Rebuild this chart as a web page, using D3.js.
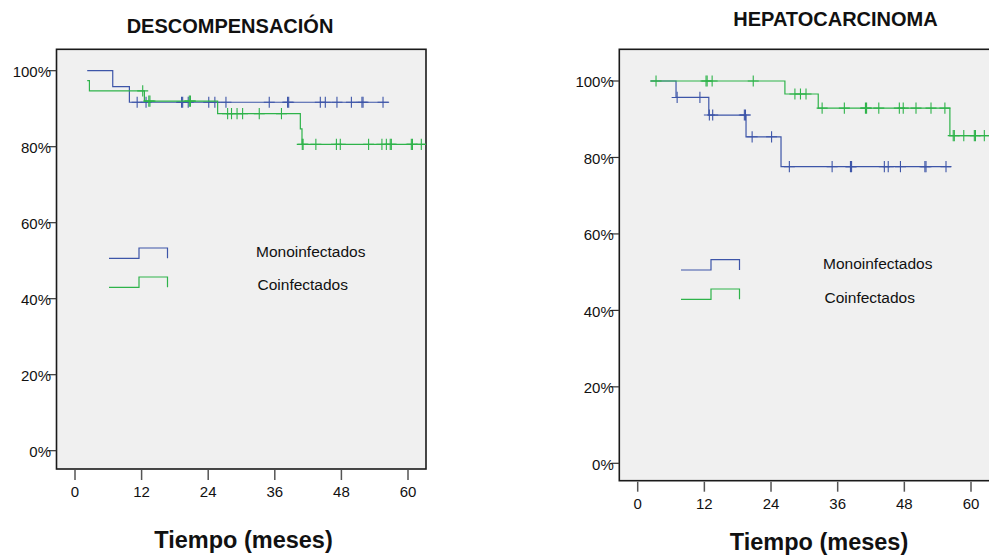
<!DOCTYPE html>
<meta charset="utf-8">
<script src="https://cdn.jsdelivr.net/npm/d3@7"></script>
<style>
body { margin: 0; background: #fff; }
text { font-family: Arial, "Liberation Sans", sans-serif; fill: #111; }
.tick-label { font-size: 15px; }
.title { font-size: 20px; font-weight: bold; }
.xlabel { font-size: 23.5px; font-weight: bold; }
.legend-label { font-size: 15.5px; }
.km { fill: none; stroke-width: 1.2px; }
.censor { stroke-width: 1.1px; }
</style>
<body>
<script>

var xTicks = [0, 12, 24, 36, 48, 60];
var yTicks = [0, 20, 40, 60, 80, 100];
var groups = ["Monoinfectados", "Coinfectados"];
var colors = ["#3d55a8", "#2eb34a"];

// DESCOMPENSACION: [tiempo, supervivencia %]
var descMonoSteps = [[2.2, 100], [6.8, 95.8], [9.8, 91.7]];
var descMonoEnd = 56.6;
var descMonoCensored = [11.2, 12.8, 19.2, 19.4, 20.4, 24.1, 25.2, 27.2, 35, 38.3, 38.5,
  44.2, 45.1, 47.2, 49.8, 51.7, 51.9, 55.5];

var descCoinfSteps = [[2.2, 97.4], [2.6, 94.7], [12.5, 92.0], [25.7, 88.7], [40.6, 84.7], [40.9, 80.6]];
var descCoinfEnd = 63.5;
var descCoinfCensored = [12.2, 13.3, 13.5, 20.6, 20.8, 27.5, 28.2, 29.2, 30.2, 33.2, 37.2,
  40.95, 41.1, 43.4, 47.1, 47.8, 52.9, 55.3, 56.1, 56.8, 57.0, 60.6, 60.8, 62.4];

// HEPATOCARCINOMA
var hepMonoSteps = [[2.3, 100], [6.9, 95.7], [12.8, 91.1], [19.5, 85.4], [25.8, 77.6]];
var hepMonoEnd = 56.4;
var hepMonoCensored = [7.1, 11.2, 12.9, 13.5, 19.2, 19.4, 20.6, 24.1, 27.3, 35, 38.3, 38.5,
  44.4, 45.1, 47.3, 51.7, 51.9, 55.5];

var hepCoinfSteps = [[2.3, 100], [26.5, 96.6], [32.5, 92.9], [56.2, 85.7]];
var hepCoinfEnd = 63.5;
var hepCoinfCensored = [3.3, 12.3, 12.5, 13.4, 20.8, 28.3, 29.3, 30.3, 33.2, 37.2, 41.0, 41.2,
  43.4, 47.1, 47.8, 50.1, 52.8, 55.3, 56.8, 57.0, 58.7, 60.6, 60.8, 62.4];

var width = 989, height = 555;

var svg = d3.select("body").append("svg")
    .attr("width", width)
    .attr("height", height);

var panels = [
  { id: "desc", title: "DESCOMPENSACIÓN",
    box: {x0: 56.5, x1: 426, y0: 49.3, y1: 469},
    xr: [75, 408], yr: [450.7, 70.7],
    titleX: 230, titleY: 33, labelX: 243.5, labelY: 548,
    legend: {x: 109, y: 258.3, tx: 256, gap: 29, ty: -1.6},
    series: [
      {steps: descMonoSteps, end: descMonoEnd, cens: descMonoCensored},
      {steps: descCoinfSteps, end: descCoinfEnd, cens: descCoinfCensored}
    ] },
  { id: "hep", title: "HEPATOCARCINOMA",
    box: {x0: 619.3, x1: 1000, y0: 49.3, y1: 480.7},
    xr: [637.7, 971], yr: [463.3, 81],
    titleX: 835.5, titleY: 26, labelX: 819, labelY: 550,
    legend: {x: 681, y: 270, tx: 823, gap: 29.3, ty: -0.7},
    series: [
      {steps: hepMonoSteps, end: hepMonoEnd, cens: hepMonoCensored},
      {steps: hepCoinfSteps, end: hepCoinfEnd, cens: hepCoinfCensored}
    ] }
];

panels.forEach(function(p) {
  var x = d3.scaleLinear().domain([0, 60]).range(p.xr);
  var y = d3.scaleLinear().domain([0, 100]).range(p.yr);
  var b = p.box;
  var g = svg.append("g");

  g.append("clipPath").attr("id", "clip-" + p.id)
    .append("rect")
      .attr("x", b.x0).attr("y", b.y0)
      .attr("width", b.x1 - b.x0).attr("height", b.y1 - b.y0);

  g.append("rect")
      .attr("x", b.x0).attr("y", b.y0)
      .attr("width", b.x1 - b.x0).attr("height", b.y1 - b.y0)
      .attr("fill", "#f0f0f0")
      .attr("stroke", "#1a1a1a")
      .attr("stroke-width", 1.6);

  // y ticks
  yTicks.forEach(function(v) {
    g.append("line")
        .attr("x1", b.x0 - 8).attr("x2", b.x0)
        .attr("y1", y(v)).attr("y2", y(v))
        .attr("stroke", "#333").attr("stroke-width", 1.2);
    g.append("text")
        .attr("class", "tick-label")
        .attr("x", b.x0 - 5.5).attr("y", y(v) + 6.3)
        .attr("text-anchor", "end")
        .text(v + "%");
  });

  // x ticks
  xTicks.forEach(function(v) {
    g.append("line")
        .attr("x1", x(v)).attr("x2", x(v))
        .attr("y1", b.y1 + 1).attr("y2", b.y1 + 11)
        .attr("stroke", "#555").attr("stroke-width", 1.5);
    g.append("text")
        .attr("class", "tick-label")
        .attr("x", x(v)).attr("y", b.y1 + 28.3)
        .attr("text-anchor", "middle")
        .text(v);
  });

  g.append("text").attr("class", "title")
      .attr("x", p.titleX).attr("y", p.titleY)
      .attr("text-anchor", "middle").text(p.title);

  g.append("text").attr("class", "xlabel")
      .attr("x", p.labelX).attr("y", p.labelY)
      .attr("text-anchor", "middle").text("Tiempo (meses)");

  var plot = g.append("g").attr("clip-path", "url(#clip-" + p.id + ")");

  var line = d3.line()
      .x(function(d) { return x(d[0]); })
      .y(function(d) { return y(d[1]); })
      .curve(d3.curveStepAfter);

  p.series.forEach(function(s, i) {
    var pts = s.steps.concat([[s.end, s.steps[s.steps.length - 1][1]]]);
    plot.append("path")
        .attr("class", "km")
        .attr("d", line(pts))
        .attr("stroke", colors[i]);

    function level(t) {
      var lv = s.steps[0][1];
      s.steps.forEach(function(st) { if (st[0] <= t) lv = st[1]; });
      return lv;
    }

    var c = plot.append("g").attr("stroke", colors[i]).attr("class", "censor");
    s.cens.forEach(function(t) {
      var cx = x(t), cy = y(level(t));
      c.append("line").attr("x1", cx).attr("x2", cx).attr("y1", cy - 5.6).attr("y2", cy + 5.6);
      c.append("line").attr("x1", cx - 5.5).attr("x2", cx + 5.5).attr("y1", cy).attr("y2", cy);
    });
  });

  // legend
  var L = p.legend;
  groups.forEach(function(name, i) {
    var ly = L.y + i * L.gap;
    g.append("path")
        .attr("d", "M" + L.x + "," + ly + "H" + (L.x + 30) + "V" + (ly - 10.3) +
             "H" + (L.x + 58.5) + "V" + ly)
        .attr("fill", "none")
        .attr("stroke", colors[i])
        .attr("stroke-width", 1.2);
    g.append("text")
        .attr("class", "legend-label")
        .attr("x", L.tx + (i ? 1.5 : 0)).attr("y", ly + L.ty + (i ? 4 : 0))
        .text(name);
  });
});

</script>
</body>
</html>
